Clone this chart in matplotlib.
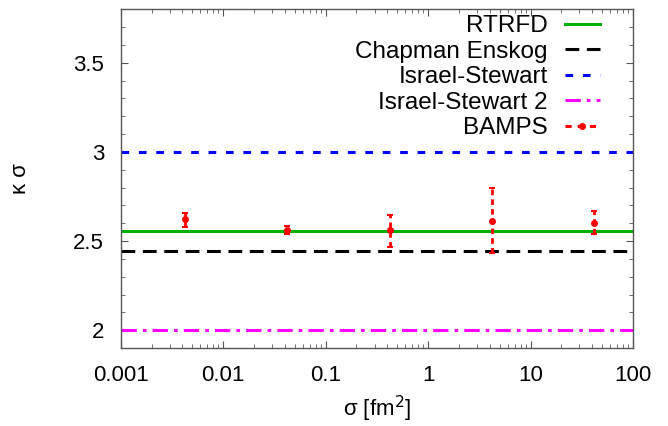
import numpy as np
import matplotlib
matplotlib.use("Agg")
from matplotlib import pyplot as plt
from matplotlib.lines import Line2D

plt.rcParams["font.family"] = ["Liberation Sans", "DejaVu Sans"]

# horizontal reference values (kappa * sigma)
RTRFD = 2.556
CHAPMAN = 2.443
IS1 = 3.0
IS2 = 2.0

# BAMPS points
sigma = [0.0042, 0.042, 0.42, 4.2, 42]
ks = [2.625, 2.565, 2.56, 2.615, 2.603]
ks_lo = [2.58, 2.54, 2.467, 2.435, 2.538]
ks_hi = [2.66, 2.584, 2.649, 2.798, 2.668]

XLIM = (0.001, 100)
YLIM = (1.9, 3.8)

fig = plt.figure(figsize=(6.68, 4.26), dpi=100)
ax = fig.add_axes([0.1807, 0.183, 0.767, 0.795])

lw = 2.2
ax.axhline(RTRFD, color="#00b000", lw=lw, label="RTRFD")
ax.axhline(CHAPMAN, color="black", lw=lw, ls=(0, (4.5, 2.5)), label="Chapman Enskog")
ax.axhline(IS1, color="#0000ff", lw=lw, ls=(0, (2.5, 3.2)), label="Israel-Stewart")
ax.axhline(IS2, color="#ff00ff", lw=lw, ls=(0, (5, 2, 1.2, 2)), label="Israel-Stewart 2")

yerr = [np.array(ks) - np.array(ks_lo), np.array(ks_hi) - np.array(ks)]
eb = ax.errorbar(sigma, ks, yerr=yerr, fmt="o", color="red", ms=4, capsize=2.5,
                 elinewidth=2.0, capthick=1.5)
eb[2][0].set_linestyle((0, (2.0, 1.5)))

bamps = Line2D([], [], color="red", lw=lw, ls=(0, (2, 2)), marker="o", ms=4)
handles, labels = ax.get_legend_handles_labels()
handles.append(bamps); labels.append("BAMPS")
ax.legend(handles, labels, loc="upper right", bbox_to_anchor=(0.9356, 0.982),
          frameon=False, markerfirst=False, fontsize=17.5, handlelength=1.45,
          handletextpad=0.7, labelspacing=0.14, borderaxespad=0, borderpad=0)

ax.set_xscale("log")
ax.set_xlim(*XLIM)
ax.set_ylim(*YLIM)
ax.set_xticks([0.001, 0.01, 0.1, 1, 10, 100])
ax.set_xticklabels(["0.001", "0.01", "0.1", "1", "10", "100"])
ax.set_yticks([2, 2.5, 3, 3.5])
ax.set_yticklabels(["2", "2.5", "3", "3.5"])
ax.set_yticks(np.arange(1.9, 3.81, 0.1), minor=True)

ax.tick_params(which="both", direction="in", top=True, right=True,
               labelsize=16, color="#555555")
ax.tick_params(which="major", length=5, width=0.8, pad=12)
ax.tick_params(which="minor", length=3, width=0.6)
for s in ax.spines.values():
    s.set_color("#555555")
    s.set_linewidth(1.0)

ax.set_xlabel(r"σ [fm$^2$]", fontsize=16, labelpad=6)
ax.set_ylabel("κ σ", fontsize=16)
ax.yaxis.set_label_coords(-0.175, 0.5)

fig.savefig("out.png", dpi=100)
